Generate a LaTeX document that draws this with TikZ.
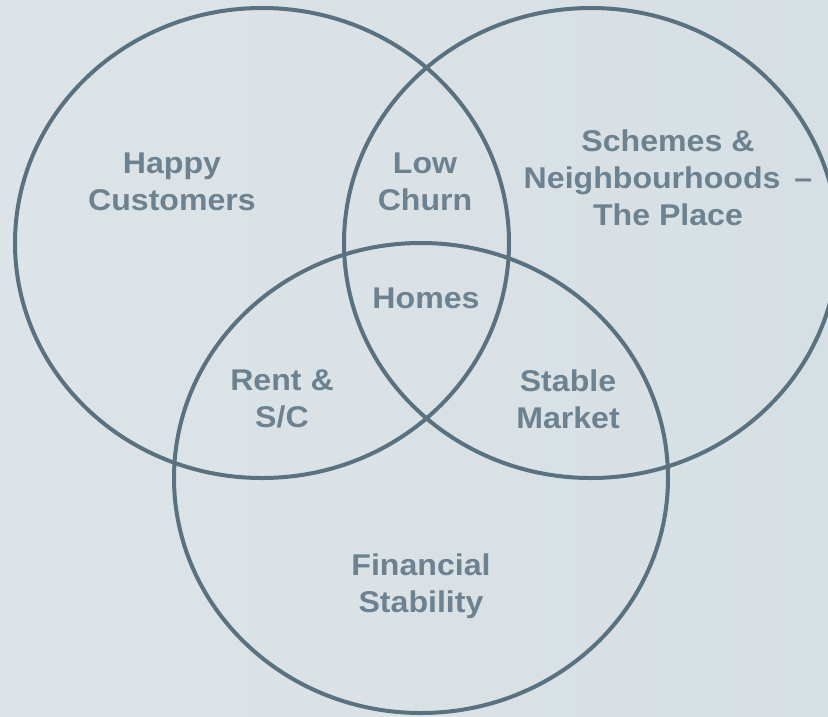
\documentclass[tikz,border=0pt]{standalone}
\usepackage{fontspec}
\setmainfont[FakeStretch=1.07]{Liberation Sans}
\begin{document}
\begin{tikzpicture}[x=1pt,y=-1pt,
  ring/.style={draw=ringcol,line width=4pt},
  lbl/.style={text=textcol,font=\bfseries\fontsize{30}{37}\selectfont,align=center,inner sep=0pt}]
\definecolor{ringcol}{HTML}{5A7180}
\definecolor{textcol}{HTML}{6C8290}
\definecolor{bgL}{HTML}{DDE4E8}
\definecolor{bgR}{HTML}{D6DFE3}
% canvas
\path[use as bounding box,left color=bgL,right color=bgR] (0,0) rectangle (828,716);
\begin{scope}
\clip (0,0) rectangle (828,716);
% the three sets
\draw[ring] (262,243) ellipse [x radius=247,y radius=235];
\draw[ring] (591,243) ellipse [x radius=247,y radius=235];
\draw[ring] (421,478) ellipse [x radius=247,y radius=235];
\end{scope}
% region labels
\node[lbl] (happy)  at (172,182) {Happy\\Customers};
\node[lbl] (churn)  at (425,182) {Low\\Churn};
\node[lbl] (place)  at (668,178) {Schemes \&\\Neighbourhoods \,–\\The Place};
\node[lbl] (homes)  at (426,298) {Homes};
\node[lbl] (rent)   at (282,399) {Rent \&\\S/C};
\node[lbl] (market) at (568,399) {Stable\\Market};
\node[lbl] (fin)    at (421,586) {Financial\\Stability};
\end{tikzpicture}
\end{document}
